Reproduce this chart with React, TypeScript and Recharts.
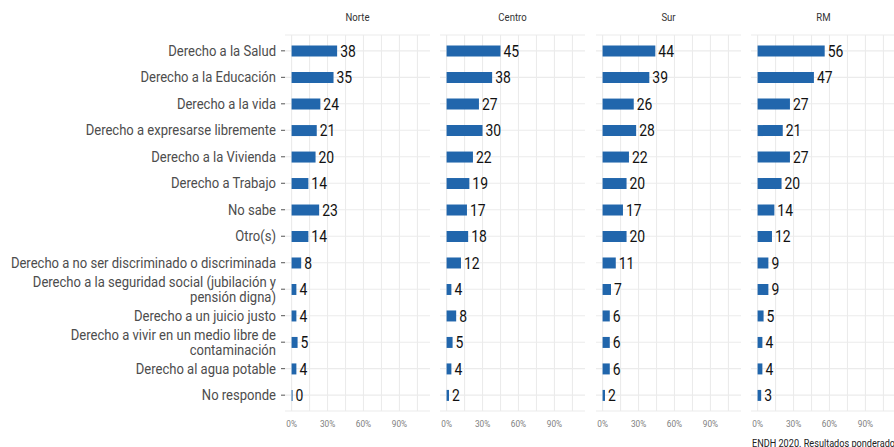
import { BarChart, Bar, XAxis, YAxis, CartesianGrid, LabelList, ReferenceLine } from 'recharts';

const categorias = [
  'Derecho a la Salud',
  'Derecho a la Educación',
  'Derecho a la vida',
  'Derecho a expresarse libremente',
  'Derecho a la Vivienda',
  'Derecho a Trabajo',
  'No sabe',
  'Otro(s)',
  'Derecho a no ser discriminado o discriminada',
  'Derecho a la seguridad social (jubilación y\npensión digna)',
  'Derecho a un juicio justo',
  'Derecho a vivir en un medio libre de\ncontaminación',
  'Derecho al agua potable',
  'No responde',
];

const zonas = ['Norte', 'Centro', 'Sur', 'RM'];

const norte = [38, 35, 24, 21, 20, 14, 23, 14, 8, 4, 4, 5, 4, 0];
const centro = [45, 38, 27, 30, 22, 19, 17, 18, 12, 4, 8, 5, 4, 2];
const sur = [44, 39, 26, 28, 22, 20, 17, 20, 11, 7, 6, 6, 6, 2];
const rm = [56, 47, 27, 21, 27, 20, 14, 12, 9, 9, 5, 4, 4, 3];

const ticksX = [0, 15, 30, 45, 60, 75, 90, 105];

// no Roboto Condensed offline: squeeze Roboto horizontally
const FONT = 'Roboto, sans-serif';
const SQZ = 0.87;
const AZUL = '#2166ac';
const GRID = '#ebebeb';

const series = [norte, centro, sur, rm];

const Nada = () => null;

const CategoryTick = (props: any) => {
  const { x, y, payload } = props;
  const lines = String(payload.value).split('\n');
  const lh = 15;
  const y0 = -((lines.length - 1) * lh) / 2 + 5;
  return (
    <g transform={`translate(${x},${y}) scale(0.9,1)`}>
      <text x={0} y={y0} textAnchor="end" fontSize={14.5} fill="#4d4d4d" fontFamily={FONT}>
        {lines.map((l, i) => (
          <tspan key={i} x={0} dy={i === 0 ? 0 : lh}>
            {l}
          </tspan>
        ))}
      </text>
    </g>
  );
};

const XTick = (props: any) => {
  const { x, y, payload } = props;
  if (payload.value % 30 !== 0) return null;
  return (
    <g transform={`translate(${x},${y}) scale(${SQZ},1)`}>
      <text x={0} y={0} dy="0.71em" textAnchor="middle" fontSize={9.5} fill="#808080" fontFamily={FONT}>
        {`${payload.value}%`}
      </text>
    </g>
  );
};

const ValueLabel = (props: any) => {
  const { x, y, width, height, value } = props;
  const lx = x + width + 3;
  const ly = y + height / 2;
  return (
    <g transform={`translate(${lx},${ly}) scale(${SQZ},1)`}>
      <text x={0} y={0} dy="0.36em" fontSize={16} fill="#111" fontFamily={FONT}>
        {value}
      </text>
    </g>
  );
};

// same axes in both layers so grid and bars share one scale
const Ejes = (axisW: number, withTicks: boolean, showCats: boolean) => [
  <XAxis
    key="x"
    type="number"
    domain={[-5.5, 115.5]}
    ticks={ticksX}
    axisLine={false}
    tickLine={false}
    height={36}
    tickMargin={3}
    tick={withTicks ? <XTick /> : <Nada />}
    interval={0}
  />,
  <YAxis
    key="y"
    type="category"
    dataKey="cat"
    width={axisW}
    axisLine={false}
    tickLine={withTicks && showCats ? { stroke: '#555' } : false}
    tickSize={4}
    tickMargin={5}
    padding={{ top: 2.6, bottom: 2.6 }}
    interval={0}
    tick={withTicks && showCats ? <CategoryTick /> : <Nada />}
  />,
];

const Panel = ({ idx, left, width, withAxis }: { idx: number; left: number; width: number; withAxis: boolean }) => {
  const data = categorias.map((c, i) => ({ cat: c, valor: series[idx][i] }));
  const axisW = withAxis ? 285 : 0;
  const common = {
    width: width + axisW,
    height: 447,
    data,
    layout: 'vertical' as const,
    margin: { top: 35, right: 0, bottom: 0, left: 0 },
  };
  return (
    <div style={{ position: 'absolute', left, top: 0 }}>
      <div style={{ position: 'absolute', left: 0, top: 0 }}>
        <BarChart {...common}>
          <CartesianGrid stroke={GRID} strokeWidth={1.1} vertical={false} />
          {ticksX.map((t) => (
            <ReferenceLine key={t} x={t} stroke={GRID} strokeWidth={1.1} />
          ))}
          {Ejes(axisW, false, false)}
          <Bar dataKey="valor" fill="none" barSize={11} isAnimationActive={false} />
        </BarChart>
      </div>
      <div style={{ position: 'absolute', left: 0, top: 0 }}>
        <BarChart {...common}>
          {Ejes(axisW, true, withAxis)}
          <Bar dataKey="valor" fill={AZUL} barSize={11} minPointSize={1} isAnimationActive={false}>
            <LabelList dataKey="valor" content={<ValueLabel />} />
          </Bar>
        </BarChart>
      </div>
      <div
        style={{
          position: 'absolute',
          left: axisW,
          top: 11,
          width,
          textAlign: 'center',
          fontFamily: FONT,
          fontSize: 11,
          color: '#333',
          transform: `scaleX(${SQZ})`,
        }}
      >
        {zonas[idx]}
      </div>
    </div>
  );
};

export default function App() {
  return (
    <div
      style={{
        position: 'absolute',
        left: 0,
        top: 0,
        width: 894,
        height: 447,
        overflow: 'hidden',
        background: '#fff',
      }}
    >
      <Panel idx={0} left={0} width={145} withAxis />
      <Panel idx={1} left={440} width={145} withAxis={false} />
      <Panel idx={2} left={596} width={145} withAxis={false} />
      <Panel idx={3} left={751} width={145} withAxis={false} />
      <div
        style={{
          position: 'absolute',
          left: 752,
          top: 437,
          whiteSpace: 'nowrap',
          fontFamily: FONT,
          fontSize: 10.5,
          color: '#222',
          transform: `scaleX(${SQZ})`,
          transformOrigin: 'left top',
        }}
      >
        ENDH 2020. Resultados ponderados
      </div>
    </div>
  );
}
